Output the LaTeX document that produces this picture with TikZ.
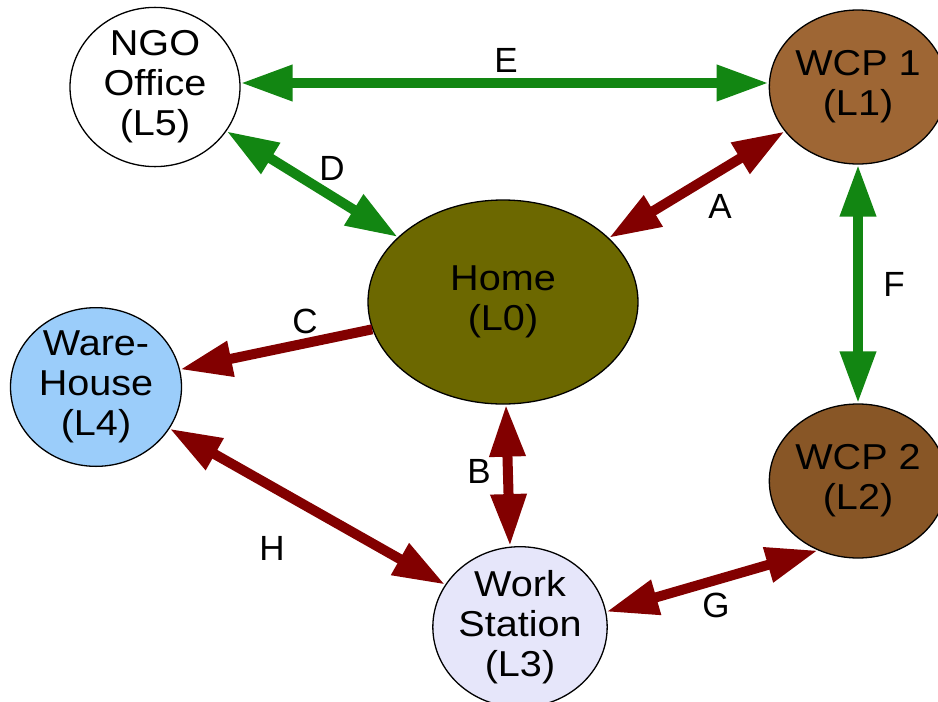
\documentclass[tikz,border=0pt]{standalone}
\usepackage{fontspec}
\setmainfont{Liberation Sans}
\newfontfamily\placefont[FakeStretch=1.1]{Liberation Sans}
\usetikzlibrary{arrows.meta,shapes.geometric}

\definecolor{linkgreen}{RGB}{18,134,18}
\definecolor{linkred}{RGB}{130,0,0}
\definecolor{wcponefill}{RGB}{158,102,52}
\definecolor{homefill}{RGB}{108,104,0}
\definecolor{warefill}{RGB}{155,205,250}
\definecolor{wcptwofill}{RGB}{136,86,38}
\definecolor{stationfill}{RGB}{230,230,250}

\tikzset{
  place/.style={ellipse, draw=black, line width=1.3pt, inner sep=0pt,
    align=center, text=black, font=\placefont\fontsize{36}{40}\selectfont},
  biglink/.style={line width=10pt,
    {Triangle[length=52pt,width=34pt]}-{Triangle[length=52pt,width=34pt]}},
  onelink/.style={line width=10pt, -{Triangle[length=52pt,width=34pt]}},
  greenlink/.style={biglink, draw=linkgreen, fill=linkgreen},
  redlink/.style={biglink, draw=linkred, fill=linkred},
  redone/.style={onelink, draw=linkred, fill=linkred},
  linklabel/.style={inner sep=0pt, text=black, font=\fontsize{35}{40}\selectfont}
}

\begin{document}
\begin{tikzpicture}[x=1pt,y=-1pt]
  \useasboundingbox (0,0) rectangle (938,702);

  % locations
  \node[place, fill=white, minimum width=170pt, minimum height=154pt]
    (ngo) at (155,87) {NGO\\Office\\(L5)};
  \node[place, fill=wcponefill, minimum width=160pt, minimum height=154pt]
    (wcpa) at (858,87) {WCP 1\\(L1)};
  \node[place, fill=homefill, minimum width=270pt, minimum height=204pt]
    (home) at (503,302) {Home\\(L0)};
  \node[place, fill=warefill, minimum width=171pt, minimum height=154pt]
    (ware) at (96,387) {Ware-\\House\\(L4)};
  \node[place, fill=wcptwofill, minimum width=160pt, minimum height=154pt]
    (wcpb) at (858,481) {WCP 2\\(L2)};
  \node[place, fill=stationfill, minimum width=170pt, minimum height=154pt]
    (station) at (520,627) {Work\\Station\\(L3)};

  % links
  \draw[greenlink] ([yshift=4pt]ngo.east) -- ([yshift=4pt]wcpa.west);
  \draw[greenlink] (ngo) -- (home);
  \draw[redlink] (home) -- (wcpa);
  \draw[greenlink] (wcpa) -- (wcpb);
  \draw[redone] (home) -- (ware);
  \draw[redlink] ([xshift=3pt]home.south) -- ([xshift=-10pt]station.north);
  \draw[redlink] (ware) -- (station);
  \draw[redlink] (station.10) -- (wcpb.240);

  % link labels
  \node[linklabel] (lE) at (506,60) {E};
  \node[linklabel] (lD) at (332,168) {D};
  \node[linklabel] (lA) at (720,206) {A};
  \node[linklabel] (lF) at (894,284) {F};
  \node[linklabel] (lC) at (305,321) {C};
  \node[linklabel] (lB) at (479,471) {B};
  \node[linklabel] (lH) at (272,548) {H};
  \node[linklabel] (lG) at (716,605) {G};
\end{tikzpicture}
\end{document}
